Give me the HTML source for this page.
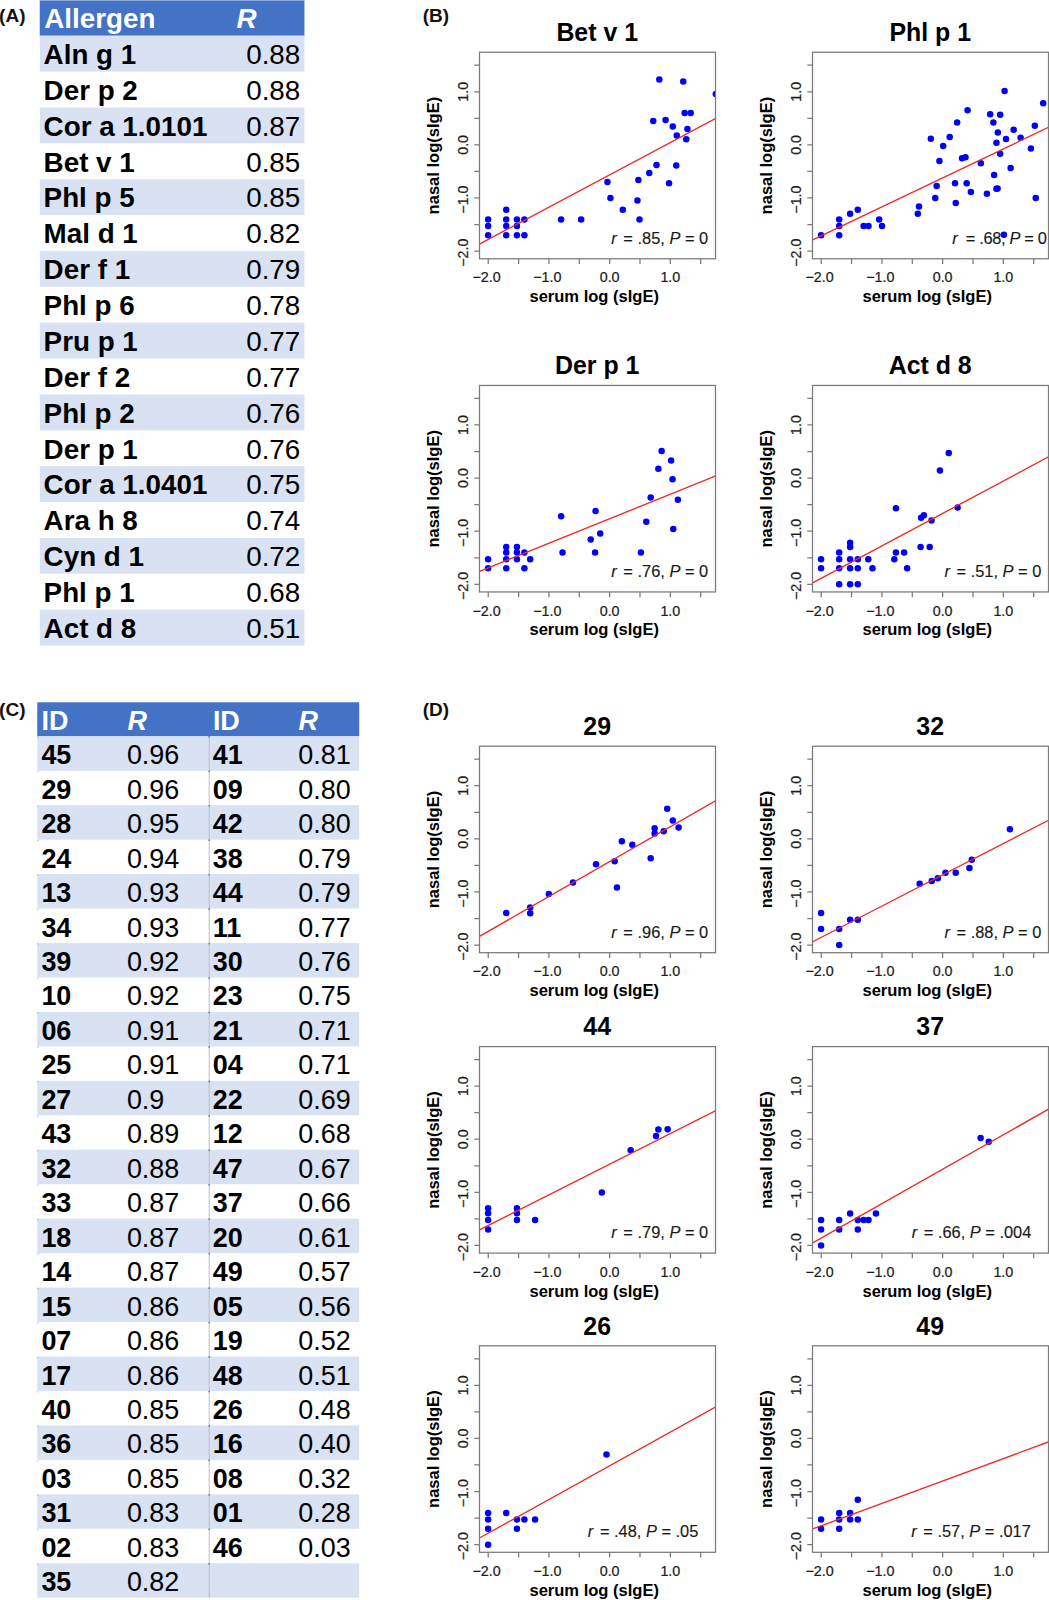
<!DOCTYPE html>
<html lang="en"><head><meta charset="utf-8"><title>Nasal vs serum sIgE correlation</title>
<style>
html,body{margin:0;padding:0;background:#fff}
body{width:1049px;height:1600px;position:relative;overflow:hidden;font-family:'Liberation Sans', Arial, Helvetica, sans-serif;color:#000}
rect.hd{fill:#4472c4}
rect.st{fill:#d9e2f3}
.hb{font-weight:bold;fill:#fff}
.hbi{font-weight:bold;font-style:italic;fill:#fff}
.b{font-weight:bold;fill:#000}
.n{fill:#000}
.sep{stroke:#b7bbc8;stroke-width:0.95}
.sd{fill:#5b6a70}
svg{position:absolute;left:0;top:0}
svg text{font-family:'Liberation Sans', Arial, Helvetica, sans-serif}
.ttl{font-size:24.9px;font-weight:bold;fill:#000}
.tl{font-size:14.3px;fill:#1c1c1c;stroke:#1c1c1c;stroke-width:.22px}
.at{font-size:16.55px;font-weight:bold;fill:#000}
.rl{font-size:16.4px;fill:#1a1a1a;stroke:#1a1a1a;stroke-width:.15px}
.rl .i{font-style:italic}
.box{fill:none;stroke:#7a7a7a;stroke-width:1.25}
.tk{fill:none;stroke:#7a7a7a;stroke-width:1.25}
.reg{stroke:#ee2a24;stroke-width:1.35}
circle{fill:#0000ff}
</style></head><body>
<svg width="1049" height="1600" viewBox="0 0 1049 1600">
<g id="tableA" font-size="27.8">
<rect class="hd" x="39.75" y="0.4" width="264.7" height="35.35"/>
<rect class="st" x="39.75" y="35.75" width="264.7" height="35.87"/>
<rect class="st" x="39.75" y="107.48" width="264.7" height="35.87"/>
<rect class="st" x="39.75" y="179.21" width="264.7" height="35.87"/>
<rect class="st" x="39.75" y="250.95" width="264.7" height="35.87"/>
<rect class="st" x="39.75" y="322.68" width="264.7" height="35.87"/>
<rect class="st" x="39.75" y="394.41" width="264.7" height="35.87"/>
<rect class="st" x="39.75" y="466.14" width="264.7" height="35.87"/>
<rect class="st" x="39.75" y="537.87" width="264.7" height="35.87"/>
<rect class="st" x="39.75" y="609.61" width="264.7" height="35.87"/>
<text class="hb" x="44.3" y="27.8">Allergen</text><text class="hbi" x="236.6" y="27.8">R</text>
<text class="b" x="43.6" y="64">Aln g 1</text><text class="n" x="300.3" y="64" text-anchor="end">0.88</text>
<text class="b" x="43.6" y="99.87">Der p 2</text><text class="n" x="300.3" y="99.87" text-anchor="end">0.88</text>
<text class="b" x="43.6" y="135.73">Cor a 1.0101</text><text class="n" x="300.3" y="135.73" text-anchor="end">0.87</text>
<text class="b" x="43.6" y="171.6">Bet v 1</text><text class="n" x="300.3" y="171.6" text-anchor="end">0.85</text>
<text class="b" x="43.6" y="207.46">Phl p 5</text><text class="n" x="300.3" y="207.46" text-anchor="end">0.85</text>
<text class="b" x="43.6" y="243.33">Mal d 1</text><text class="n" x="300.3" y="243.33" text-anchor="end">0.82</text>
<text class="b" x="43.6" y="279.2">Der f 1</text><text class="n" x="300.3" y="279.2" text-anchor="end">0.79</text>
<text class="b" x="43.6" y="315.06">Phl p 6</text><text class="n" x="300.3" y="315.06" text-anchor="end">0.78</text>
<text class="b" x="43.6" y="350.93">Pru p 1</text><text class="n" x="300.3" y="350.93" text-anchor="end">0.77</text>
<text class="b" x="43.6" y="386.79">Der f 2</text><text class="n" x="300.3" y="386.79" text-anchor="end">0.77</text>
<text class="b" x="43.6" y="422.66">Phl p 2</text><text class="n" x="300.3" y="422.66" text-anchor="end">0.76</text>
<text class="b" x="43.6" y="458.53">Der p 1</text><text class="n" x="300.3" y="458.53" text-anchor="end">0.76</text>
<text class="b" x="43.6" y="494.39">Cor a 1.0401</text><text class="n" x="300.3" y="494.39" text-anchor="end">0.75</text>
<text class="b" x="43.6" y="530.26">Ara h 8</text><text class="n" x="300.3" y="530.26" text-anchor="end">0.74</text>
<text class="b" x="43.6" y="566.12">Cyn d 1</text><text class="n" x="300.3" y="566.12" text-anchor="end">0.72</text>
<text class="b" x="43.6" y="601.99">Phl p 1</text><text class="n" x="300.3" y="601.99" text-anchor="end">0.68</text>
<text class="b" x="43.6" y="637.86">Act d 8</text><text class="n" x="300.3" y="637.86" text-anchor="end">0.51</text>
</g>
<g id="tableC" font-size="26.95">
<rect class="hd" x="37.25" y="702.3" width="321.95" height="34"/>
<rect class="st" x="37.25" y="736.3" width="321.95" height="34.46"/>
<rect class="st" x="37.25" y="805.21" width="321.95" height="34.46"/>
<rect class="st" x="37.25" y="874.12" width="321.95" height="34.46"/>
<rect class="st" x="37.25" y="943.04" width="321.95" height="34.46"/>
<rect class="st" x="37.25" y="1011.95" width="321.95" height="34.46"/>
<rect class="st" x="37.25" y="1080.86" width="321.95" height="34.46"/>
<rect class="st" x="37.25" y="1149.77" width="321.95" height="34.46"/>
<rect class="st" x="37.25" y="1218.68" width="321.95" height="34.46"/>
<rect class="st" x="37.25" y="1287.6" width="321.95" height="34.46"/>
<rect class="st" x="37.25" y="1356.51" width="321.95" height="34.46"/>
<rect class="st" x="37.25" y="1425.42" width="321.95" height="34.46"/>
<rect class="st" x="37.25" y="1494.33" width="321.95" height="34.46"/>
<rect class="st" x="37.25" y="1563.24" width="321.95" height="34.46"/>
<text class="hb" x="41.6" y="729.7">ID</text><text class="hbi" x="127.4" y="729.7">R</text><text class="hb" x="212.9" y="729.7">ID</text><text class="hbi" x="298.4" y="729.7">R</text>
<text class="b" x="41.4" y="764.3">45</text><text class="n" x="126.9" y="764.3">0.96</text>
<text class="b" x="212.8" y="764.3">41</text><text class="n" x="298.3" y="764.3">0.81</text>
<text class="b" x="41.4" y="798.76">29</text><text class="n" x="126.9" y="798.76">0.96</text>
<text class="b" x="212.8" y="798.76">09</text><text class="n" x="298.3" y="798.76">0.80</text>
<text class="b" x="41.4" y="833.21">28</text><text class="n" x="126.9" y="833.21">0.95</text>
<text class="b" x="212.8" y="833.21">42</text><text class="n" x="298.3" y="833.21">0.80</text>
<text class="b" x="41.4" y="867.67">24</text><text class="n" x="126.9" y="867.67">0.94</text>
<text class="b" x="212.8" y="867.67">38</text><text class="n" x="298.3" y="867.67">0.79</text>
<text class="b" x="41.4" y="902.12">13</text><text class="n" x="126.9" y="902.12">0.93</text>
<text class="b" x="212.8" y="902.12">44</text><text class="n" x="298.3" y="902.12">0.79</text>
<text class="b" x="41.4" y="936.58">34</text><text class="n" x="126.9" y="936.58">0.93</text>
<text class="b" x="212.8" y="936.58">11</text><text class="n" x="298.3" y="936.58">0.77</text>
<text class="b" x="41.4" y="971.04">39</text><text class="n" x="126.9" y="971.04">0.92</text>
<text class="b" x="212.8" y="971.04">30</text><text class="n" x="298.3" y="971.04">0.76</text>
<text class="b" x="41.4" y="1005.49">10</text><text class="n" x="126.9" y="1005.49">0.92</text>
<text class="b" x="212.8" y="1005.49">23</text><text class="n" x="298.3" y="1005.49">0.75</text>
<text class="b" x="41.4" y="1039.95">06</text><text class="n" x="126.9" y="1039.95">0.91</text>
<text class="b" x="212.8" y="1039.95">21</text><text class="n" x="298.3" y="1039.95">0.71</text>
<text class="b" x="41.4" y="1074.4">25</text><text class="n" x="126.9" y="1074.4">0.91</text>
<text class="b" x="212.8" y="1074.4">04</text><text class="n" x="298.3" y="1074.4">0.71</text>
<text class="b" x="41.4" y="1108.86">27</text><text class="n" x="126.9" y="1108.86">0.9</text>
<text class="b" x="212.8" y="1108.86">22</text><text class="n" x="298.3" y="1108.86">0.69</text>
<text class="b" x="41.4" y="1143.32">43</text><text class="n" x="126.9" y="1143.32">0.89</text>
<text class="b" x="212.8" y="1143.32">12</text><text class="n" x="298.3" y="1143.32">0.68</text>
<text class="b" x="41.4" y="1177.77">32</text><text class="n" x="126.9" y="1177.77">0.88</text>
<text class="b" x="212.8" y="1177.77">47</text><text class="n" x="298.3" y="1177.77">0.67</text>
<text class="b" x="41.4" y="1212.23">33</text><text class="n" x="126.9" y="1212.23">0.87</text>
<text class="b" x="212.8" y="1212.23">37</text><text class="n" x="298.3" y="1212.23">0.66</text>
<text class="b" x="41.4" y="1246.68">18</text><text class="n" x="126.9" y="1246.68">0.87</text>
<text class="b" x="212.8" y="1246.68">20</text><text class="n" x="298.3" y="1246.68">0.61</text>
<text class="b" x="41.4" y="1281.14">14</text><text class="n" x="126.9" y="1281.14">0.87</text>
<text class="b" x="212.8" y="1281.14">49</text><text class="n" x="298.3" y="1281.14">0.57</text>
<text class="b" x="41.4" y="1315.6">15</text><text class="n" x="126.9" y="1315.6">0.86</text>
<text class="b" x="212.8" y="1315.6">05</text><text class="n" x="298.3" y="1315.6">0.56</text>
<text class="b" x="41.4" y="1350.05">07</text><text class="n" x="126.9" y="1350.05">0.86</text>
<text class="b" x="212.8" y="1350.05">19</text><text class="n" x="298.3" y="1350.05">0.52</text>
<text class="b" x="41.4" y="1384.51">17</text><text class="n" x="126.9" y="1384.51">0.86</text>
<text class="b" x="212.8" y="1384.51">48</text><text class="n" x="298.3" y="1384.51">0.51</text>
<text class="b" x="41.4" y="1418.96">40</text><text class="n" x="126.9" y="1418.96">0.85</text>
<text class="b" x="212.8" y="1418.96">26</text><text class="n" x="298.3" y="1418.96">0.48</text>
<text class="b" x="41.4" y="1453.42">36</text><text class="n" x="126.9" y="1453.42">0.85</text>
<text class="b" x="212.8" y="1453.42">16</text><text class="n" x="298.3" y="1453.42">0.40</text>
<text class="b" x="41.4" y="1487.88">03</text><text class="n" x="126.9" y="1487.88">0.85</text>
<text class="b" x="212.8" y="1487.88">08</text><text class="n" x="298.3" y="1487.88">0.32</text>
<text class="b" x="41.4" y="1522.33">31</text><text class="n" x="126.9" y="1522.33">0.83</text>
<text class="b" x="212.8" y="1522.33">01</text><text class="n" x="298.3" y="1522.33">0.28</text>
<text class="b" x="41.4" y="1556.79">02</text><text class="n" x="126.9" y="1556.79">0.83</text>
<text class="b" x="212.8" y="1556.79">46</text><text class="n" x="298.3" y="1556.79">0.03</text>
<text class="b" x="41.4" y="1591.24">35</text><text class="n" x="126.9" y="1591.24">0.82</text>
<line class="sep" x1="209.2" y1="736.3" x2="209.2" y2="1597.7"/>
<rect class="sd" x="208.55" y="736.1" width="1.3" height="1.5"/>
<rect class="sd" opacity="0.45" x="37.25" y="736.6" width="1.2" height="1.2"/>
<rect class="sd" x="208.55" y="770.56" width="1.3" height="1.5"/>
<rect class="sd" opacity="0.45" x="37.25" y="771.06" width="1.2" height="1.2"/>
<rect class="sd" x="208.55" y="805.01" width="1.3" height="1.5"/>
<rect class="sd" opacity="0.45" x="37.25" y="805.51" width="1.2" height="1.2"/>
<rect class="sd" x="208.55" y="839.47" width="1.3" height="1.5"/>
<rect class="sd" opacity="0.45" x="37.25" y="839.97" width="1.2" height="1.2"/>
<rect class="sd" x="208.55" y="873.92" width="1.3" height="1.5"/>
<rect class="sd" opacity="0.45" x="37.25" y="874.42" width="1.2" height="1.2"/>
<rect class="sd" x="208.55" y="908.38" width="1.3" height="1.5"/>
<rect class="sd" opacity="0.45" x="37.25" y="908.88" width="1.2" height="1.2"/>
<rect class="sd" x="208.55" y="942.84" width="1.3" height="1.5"/>
<rect class="sd" opacity="0.45" x="37.25" y="943.34" width="1.2" height="1.2"/>
<rect class="sd" x="208.55" y="977.29" width="1.3" height="1.5"/>
<rect class="sd" opacity="0.45" x="37.25" y="977.79" width="1.2" height="1.2"/>
<rect class="sd" x="208.55" y="1011.75" width="1.3" height="1.5"/>
<rect class="sd" opacity="0.45" x="37.25" y="1012.25" width="1.2" height="1.2"/>
<rect class="sd" x="208.55" y="1046.2" width="1.3" height="1.5"/>
<rect class="sd" opacity="0.45" x="37.25" y="1046.7" width="1.2" height="1.2"/>
<rect class="sd" x="208.55" y="1080.66" width="1.3" height="1.5"/>
<rect class="sd" opacity="0.45" x="37.25" y="1081.16" width="1.2" height="1.2"/>
<rect class="sd" x="208.55" y="1115.12" width="1.3" height="1.5"/>
<rect class="sd" opacity="0.45" x="37.25" y="1115.62" width="1.2" height="1.2"/>
<rect class="sd" x="208.55" y="1149.57" width="1.3" height="1.5"/>
<rect class="sd" opacity="0.45" x="37.25" y="1150.07" width="1.2" height="1.2"/>
<rect class="sd" x="208.55" y="1184.03" width="1.3" height="1.5"/>
<rect class="sd" opacity="0.45" x="37.25" y="1184.53" width="1.2" height="1.2"/>
<rect class="sd" x="208.55" y="1218.48" width="1.3" height="1.5"/>
<rect class="sd" opacity="0.45" x="37.25" y="1218.98" width="1.2" height="1.2"/>
<rect class="sd" x="208.55" y="1252.94" width="1.3" height="1.5"/>
<rect class="sd" opacity="0.45" x="37.25" y="1253.44" width="1.2" height="1.2"/>
<rect class="sd" x="208.55" y="1287.4" width="1.3" height="1.5"/>
<rect class="sd" opacity="0.45" x="37.25" y="1287.9" width="1.2" height="1.2"/>
<rect class="sd" x="208.55" y="1321.85" width="1.3" height="1.5"/>
<rect class="sd" opacity="0.45" x="37.25" y="1322.35" width="1.2" height="1.2"/>
<rect class="sd" x="208.55" y="1356.31" width="1.3" height="1.5"/>
<rect class="sd" opacity="0.45" x="37.25" y="1356.81" width="1.2" height="1.2"/>
<rect class="sd" x="208.55" y="1390.76" width="1.3" height="1.5"/>
<rect class="sd" opacity="0.45" x="37.25" y="1391.26" width="1.2" height="1.2"/>
<rect class="sd" x="208.55" y="1425.22" width="1.3" height="1.5"/>
<rect class="sd" opacity="0.45" x="37.25" y="1425.72" width="1.2" height="1.2"/>
<rect class="sd" x="208.55" y="1459.68" width="1.3" height="1.5"/>
<rect class="sd" opacity="0.45" x="37.25" y="1460.18" width="1.2" height="1.2"/>
<rect class="sd" x="208.55" y="1494.13" width="1.3" height="1.5"/>
<rect class="sd" opacity="0.45" x="37.25" y="1494.63" width="1.2" height="1.2"/>
<rect class="sd" x="208.55" y="1528.59" width="1.3" height="1.5"/>
<rect class="sd" opacity="0.45" x="37.25" y="1529.09" width="1.2" height="1.2"/>
<rect class="sd" x="208.55" y="1563.04" width="1.3" height="1.5"/>
<rect class="sd" opacity="0.45" x="37.25" y="1563.54" width="1.2" height="1.2"/>
</g>
<g font-weight="bold" font-size="19" fill="#111">
<text x="-0.9" y="21.7">(A)</text>
<text x="422.8" y="21.7">(B)</text>
<text x="-0.9" y="716.2">(C)</text>
<text x="422.8" y="716.2">(D)</text>
</g>
<g class="plot">
<clipPath id="c0"><rect x="479.5" y="52.25" width="236" height="206.5"/></clipPath>
<text class="ttl" x="597.2" y="41.05" text-anchor="middle">Bet v 1</text>
<g clip-path="url(#c0)">
<circle cx="488.1" cy="219.43" r="3.25"/>
<circle cx="488.1" cy="225.94" r="3.25"/>
<circle cx="488.1" cy="235.24" r="3.25"/>
<circle cx="506.24" cy="209.66" r="3.25"/>
<circle cx="506.24" cy="219.43" r="3.25"/>
<circle cx="506.24" cy="225.94" r="3.25"/>
<circle cx="506.24" cy="235.24" r="3.25"/>
<circle cx="516.94" cy="219.43" r="3.25"/>
<circle cx="516.94" cy="225.94" r="3.25"/>
<circle cx="516.94" cy="235.24" r="3.25"/>
<circle cx="524.38" cy="219.43" r="3.25"/>
<circle cx="524.38" cy="235.24" r="3.25"/>
<circle cx="561.13" cy="219.43" r="3.25"/>
<circle cx="581.14" cy="219.43" r="3.25"/>
<circle cx="607.42" cy="181.98" r="3.25"/>
<circle cx="610.44" cy="198.03" r="3.25"/>
<circle cx="622.77" cy="209.66" r="3.25"/>
<circle cx="637.43" cy="200.59" r="3.25"/>
<circle cx="638.36" cy="179.89" r="3.25"/>
<circle cx="639.52" cy="219.43" r="3.25"/>
<circle cx="649.29" cy="172.91" r="3.25"/>
<circle cx="656.5" cy="165" r="3.25"/>
<circle cx="653.24" cy="121.04" r="3.25"/>
<circle cx="659.29" cy="79.4" r="3.25"/>
<circle cx="665.57" cy="120.11" r="3.25"/>
<circle cx="669.06" cy="183.14" r="3.25"/>
<circle cx="672.78" cy="126.62" r="3.25"/>
<circle cx="676.27" cy="165.46" r="3.25"/>
<circle cx="676.74" cy="135.46" r="3.25"/>
<circle cx="683.25" cy="81.49" r="3.25"/>
<circle cx="684.64" cy="112.9" r="3.25"/>
<circle cx="690.69" cy="112.9" r="3.25"/>
<circle cx="687.44" cy="128.95" r="3.25"/>
<circle cx="686.27" cy="139.18" r="3.25"/>
<circle cx="715.81" cy="94.06" r="3.25"/>
<line class="reg" x1="479.49" y1="244.08" x2="715.81" y2="118.25"/>
</g>
<rect class="box" x="479.5" y="52.25" width="236" height="206.5"/>
<path class="tk" d="M488.24 258.75v5.2M479.5 251.1h-5.2M518.59 258.75v5.2M479.5 224.55h-5.2M548.94 258.75v5.2M479.5 197.99h-5.2M579.29 258.75v5.2M479.5 171.43h-5.2M609.64 258.75v5.2M479.5 144.88h-5.2M639.99 258.75v5.2M479.5 118.32h-5.2M670.34 258.75v5.2M479.5 91.77h-5.2M700.69 258.75v5.2M479.5 65.21h-5.2"/>
<text class="tl" x="486.64" y="282.3" text-anchor="middle">−2.0</text>
<text class="tl" text-anchor="middle" transform="translate(467.7 252.7) rotate(-90)">−2.0</text>
<text class="tl" x="547.34" y="282.3" text-anchor="middle">−1.0</text>
<text class="tl" text-anchor="middle" transform="translate(467.7 199.59) rotate(-90)">−1.0</text>
<text class="tl" x="609.64" y="282.3" text-anchor="middle">0.0</text>
<text class="tl" text-anchor="middle" transform="translate(467.7 144.88) rotate(-90)">0.0</text>
<text class="tl" x="670.34" y="282.3" text-anchor="middle">1.0</text>
<text class="tl" text-anchor="middle" transform="translate(467.7 91.77) rotate(-90)">1.0</text>
<text class="at" x="594.2" y="302.25" text-anchor="middle">serum log (sIgE)</text>
<text class="at" text-anchor="middle" transform="translate(438.6 155.6) rotate(-90)">nasal log(sIgE)</text>
<text class="rl" x="708.14" y="243.55" text-anchor="end"><tspan class="i">r</tspan><tspan dx="2.1"> = .85, </tspan><tspan class="i">P</tspan> = 0</text>
</g>
<g class="plot">
<clipPath id="c1"><rect x="812.5" y="52.25" width="236" height="206.5"/></clipPath>
<text class="ttl" x="930.2" y="41.05" text-anchor="middle">Phl p 1</text>
<g clip-path="url(#c1)">
<circle cx="821.05" cy="235.24" r="3.25"/>
<circle cx="839.19" cy="219.43" r="3.25"/>
<circle cx="839.19" cy="225.94" r="3.25"/>
<circle cx="839.19" cy="235.24" r="3.25"/>
<circle cx="850.12" cy="213.85" r="3.25"/>
<circle cx="857.8" cy="209.66" r="3.25"/>
<circle cx="863.62" cy="225.94" r="3.25"/>
<circle cx="868.5" cy="225.94" r="3.25"/>
<circle cx="879.2" cy="219.43" r="3.25"/>
<circle cx="881.99" cy="225.94" r="3.25"/>
<circle cx="917.81" cy="213.85" r="3.25"/>
<circle cx="918.98" cy="206.4" r="3.25"/>
<circle cx="930.84" cy="138.71" r="3.25"/>
<circle cx="935.26" cy="198.03" r="3.25"/>
<circle cx="936.65" cy="185.93" r="3.25"/>
<circle cx="939.44" cy="161.04" r="3.25"/>
<circle cx="943.17" cy="145.93" r="3.25"/>
<circle cx="949.68" cy="137.09" r="3.25"/>
<circle cx="955.03" cy="183.14" r="3.25"/>
<circle cx="955.73" cy="202.91" r="3.25"/>
<circle cx="957.12" cy="122.43" r="3.25"/>
<circle cx="962.01" cy="158.25" r="3.25"/>
<circle cx="965.5" cy="157.32" r="3.25"/>
<circle cx="966.66" cy="183.14" r="3.25"/>
<circle cx="967.59" cy="110.34" r="3.25"/>
<circle cx="970.85" cy="191.98" r="3.25"/>
<circle cx="980.85" cy="163.14" r="3.25"/>
<circle cx="986.9" cy="193.84" r="3.25"/>
<circle cx="990.15" cy="114.29" r="3.25"/>
<circle cx="993.41" cy="122.43" r="3.25"/>
<circle cx="994.11" cy="175" r="3.25"/>
<circle cx="996.43" cy="142.67" r="3.25"/>
<circle cx="996.43" cy="188.84" r="3.25"/>
<circle cx="997.59" cy="188.38" r="3.25"/>
<circle cx="997.83" cy="132.43" r="3.25"/>
<circle cx="1000.15" cy="114.76" r="3.25"/>
<circle cx="1000.15" cy="153.83" r="3.25"/>
<circle cx="1004.57" cy="91.03" r="3.25"/>
<circle cx="1003.88" cy="234.78" r="3.25"/>
<circle cx="1005.97" cy="138.95" r="3.25"/>
<circle cx="1010.62" cy="168.02" r="3.25"/>
<circle cx="1013.64" cy="129.64" r="3.25"/>
<circle cx="1020.62" cy="137.78" r="3.25"/>
<circle cx="1030.86" cy="148.48" r="3.25"/>
<circle cx="1034.81" cy="125.69" r="3.25"/>
<circle cx="1035.74" cy="198.03" r="3.25"/>
<circle cx="1043.18" cy="103.36" r="3.25"/>
<line class="reg" x1="812.68" y1="239.9" x2="1049" y2="127.08"/>
</g>
<rect class="box" x="812.5" y="52.25" width="236" height="206.5"/>
<path class="tk" d="M821.24 258.75v5.2M812.5 251.1h-5.2M851.59 258.75v5.2M812.5 224.55h-5.2M881.94 258.75v5.2M812.5 197.99h-5.2M912.29 258.75v5.2M812.5 171.43h-5.2M942.64 258.75v5.2M812.5 144.88h-5.2M972.99 258.75v5.2M812.5 118.32h-5.2M1003.34 258.75v5.2M812.5 91.77h-5.2M1033.69 258.75v5.2M812.5 65.21h-5.2"/>
<text class="tl" x="819.64" y="282.3" text-anchor="middle">−2.0</text>
<text class="tl" text-anchor="middle" transform="translate(800.7 252.7) rotate(-90)">−2.0</text>
<text class="tl" x="880.34" y="282.3" text-anchor="middle">−1.0</text>
<text class="tl" text-anchor="middle" transform="translate(800.7 199.59) rotate(-90)">−1.0</text>
<text class="tl" x="942.64" y="282.3" text-anchor="middle">0.0</text>
<text class="tl" text-anchor="middle" transform="translate(800.7 144.88) rotate(-90)">0.0</text>
<text class="tl" x="1003.34" y="282.3" text-anchor="middle">1.0</text>
<text class="tl" text-anchor="middle" transform="translate(800.7 91.77) rotate(-90)">1.0</text>
<text class="at" x="927.2" y="302.25" text-anchor="middle">serum log (sIgE)</text>
<text class="at" text-anchor="middle" transform="translate(771.6 155.6) rotate(-90)">nasal log(sIgE)</text>
<text class="rl" x="1046.44" y="243.55" text-anchor="end" style="letter-spacing:-0.35px"><tspan class="i">r</tspan><tspan dx="4.4"> = .68, </tspan><tspan class="i">P</tspan> = 0</text>
</g>
<g class="plot">
<clipPath id="c2"><rect x="479.5" y="385.45" width="236" height="206.5"/></clipPath>
<text class="ttl" x="597.2" y="374.25" text-anchor="middle">Der p 1</text>
<g clip-path="url(#c2)">
<circle cx="488.1" cy="559.17" r="3.25"/>
<circle cx="488.1" cy="568.24" r="3.25"/>
<circle cx="506.24" cy="547.08" r="3.25"/>
<circle cx="506.24" cy="552.43" r="3.25"/>
<circle cx="506.24" cy="559.17" r="3.25"/>
<circle cx="506.24" cy="568.24" r="3.25"/>
<circle cx="516.94" cy="547.08" r="3.25"/>
<circle cx="516.94" cy="552.43" r="3.25"/>
<circle cx="516.94" cy="559.17" r="3.25"/>
<circle cx="524.38" cy="552.43" r="3.25"/>
<circle cx="524.38" cy="568.24" r="3.25"/>
<circle cx="530.2" cy="559.17" r="3.25"/>
<circle cx="561.13" cy="516.14" r="3.25"/>
<circle cx="562.53" cy="552.43" r="3.25"/>
<circle cx="590.67" cy="539.4" r="3.25"/>
<circle cx="595.09" cy="552.43" r="3.25"/>
<circle cx="595.56" cy="511.02" r="3.25"/>
<circle cx="600.21" cy="533.59" r="3.25"/>
<circle cx="640.92" cy="552.43" r="3.25"/>
<circle cx="646.27" cy="521.72" r="3.25"/>
<circle cx="650.68" cy="497.53" r="3.25"/>
<circle cx="658.36" cy="468.69" r="3.25"/>
<circle cx="661.62" cy="451.01" r="3.25"/>
<circle cx="671.15" cy="460.55" r="3.25"/>
<circle cx="672.55" cy="479.16" r="3.25"/>
<circle cx="673.25" cy="528.94" r="3.25"/>
<circle cx="677.9" cy="499.86" r="3.25"/>
<line class="reg" x1="479.49" y1="571.27" x2="715.81" y2="475.9"/>
</g>
<rect class="box" x="479.5" y="385.45" width="236" height="206.5"/>
<path class="tk" d="M488.24 591.95v5.2M479.5 584.3h-5.2M518.59 591.95v5.2M479.5 557.75h-5.2M548.94 591.95v5.2M479.5 531.19h-5.2M579.29 591.95v5.2M479.5 504.63h-5.2M609.64 591.95v5.2M479.5 478.08h-5.2M639.99 591.95v5.2M479.5 451.52h-5.2M670.34 591.95v5.2M479.5 424.97h-5.2M700.69 591.95v5.2M479.5 398.41h-5.2"/>
<text class="tl" x="486.64" y="615.5" text-anchor="middle">−2.0</text>
<text class="tl" text-anchor="middle" transform="translate(467.7 585.9) rotate(-90)">−2.0</text>
<text class="tl" x="547.34" y="615.5" text-anchor="middle">−1.0</text>
<text class="tl" text-anchor="middle" transform="translate(467.7 532.79) rotate(-90)">−1.0</text>
<text class="tl" x="609.64" y="615.5" text-anchor="middle">0.0</text>
<text class="tl" text-anchor="middle" transform="translate(467.7 478.08) rotate(-90)">0.0</text>
<text class="tl" x="670.34" y="615.5" text-anchor="middle">1.0</text>
<text class="tl" text-anchor="middle" transform="translate(467.7 424.97) rotate(-90)">1.0</text>
<text class="at" x="594.2" y="635.45" text-anchor="middle">serum log (sIgE)</text>
<text class="at" text-anchor="middle" transform="translate(438.6 488.8) rotate(-90)">nasal log(sIgE)</text>
<text class="rl" x="708.14" y="576.75" text-anchor="end"><tspan class="i">r</tspan><tspan dx="2.1"> = .76, </tspan><tspan class="i">P</tspan> = 0</text>
</g>
<g class="plot">
<clipPath id="c3"><rect x="812.5" y="385.45" width="236" height="206.5"/></clipPath>
<text class="ttl" x="930.2" y="374.25" text-anchor="middle">Act d 8</text>
<g clip-path="url(#c3)">
<circle cx="821.05" cy="559.17" r="3.25"/>
<circle cx="821.05" cy="568.24" r="3.25"/>
<circle cx="839.19" cy="552.43" r="3.25"/>
<circle cx="839.19" cy="559.17" r="3.25"/>
<circle cx="839.19" cy="568.24" r="3.25"/>
<circle cx="839.19" cy="584.29" r="3.25"/>
<circle cx="850.12" cy="542.66" r="3.25"/>
<circle cx="850.12" cy="547.08" r="3.25"/>
<circle cx="850.12" cy="559.17" r="3.25"/>
<circle cx="850.12" cy="568.24" r="3.25"/>
<circle cx="850.12" cy="584.29" r="3.25"/>
<circle cx="857.8" cy="559.17" r="3.25"/>
<circle cx="857.8" cy="568.24" r="3.25"/>
<circle cx="857.8" cy="584.29" r="3.25"/>
<circle cx="868.27" cy="559.17" r="3.25"/>
<circle cx="872.45" cy="568.24" r="3.25"/>
<circle cx="894.32" cy="559.17" r="3.25"/>
<circle cx="895.95" cy="552.43" r="3.25"/>
<circle cx="904.09" cy="552.43" r="3.25"/>
<circle cx="907.11" cy="568.24" r="3.25"/>
<circle cx="895.95" cy="508.23" r="3.25"/>
<circle cx="920.6" cy="547.08" r="3.25"/>
<circle cx="929.67" cy="547.08" r="3.25"/>
<circle cx="921.07" cy="517.77" r="3.25"/>
<circle cx="923.86" cy="515.21" r="3.25"/>
<circle cx="931.54" cy="520.56" r="3.25"/>
<circle cx="939.91" cy="470.55" r="3.25"/>
<circle cx="948.75" cy="453.11" r="3.25"/>
<circle cx="957.59" cy="507.54" r="3.25"/>
<line class="reg" x1="812.68" y1="582.9" x2="1049" y2="456.6"/>
</g>
<rect class="box" x="812.5" y="385.45" width="236" height="206.5"/>
<path class="tk" d="M821.24 591.95v5.2M812.5 584.3h-5.2M851.59 591.95v5.2M812.5 557.75h-5.2M881.94 591.95v5.2M812.5 531.19h-5.2M912.29 591.95v5.2M812.5 504.63h-5.2M942.64 591.95v5.2M812.5 478.08h-5.2M972.99 591.95v5.2M812.5 451.52h-5.2M1003.34 591.95v5.2M812.5 424.97h-5.2M1033.69 591.95v5.2M812.5 398.41h-5.2"/>
<text class="tl" x="819.64" y="615.5" text-anchor="middle">−2.0</text>
<text class="tl" text-anchor="middle" transform="translate(800.7 585.9) rotate(-90)">−2.0</text>
<text class="tl" x="880.34" y="615.5" text-anchor="middle">−1.0</text>
<text class="tl" text-anchor="middle" transform="translate(800.7 532.79) rotate(-90)">−1.0</text>
<text class="tl" x="942.64" y="615.5" text-anchor="middle">0.0</text>
<text class="tl" text-anchor="middle" transform="translate(800.7 478.08) rotate(-90)">0.0</text>
<text class="tl" x="1003.34" y="615.5" text-anchor="middle">1.0</text>
<text class="tl" text-anchor="middle" transform="translate(800.7 424.97) rotate(-90)">1.0</text>
<text class="at" x="927.2" y="635.45" text-anchor="middle">serum log (sIgE)</text>
<text class="at" text-anchor="middle" transform="translate(771.6 488.8) rotate(-90)">nasal log(sIgE)</text>
<text class="rl" x="1041.33" y="576.75" text-anchor="end"><tspan class="i">r</tspan><tspan dx="2.1"> = .51, </tspan><tspan class="i">P</tspan> = 0</text>
</g>
<g class="plot">
<clipPath id="c4"><rect x="479.5" y="746.2" width="236" height="206.5"/></clipPath>
<text class="ttl" x="597.2" y="735" text-anchor="middle">29</text>
<g clip-path="url(#c4)">
<circle cx="506.24" cy="912.89" r="3.25"/>
<circle cx="530.2" cy="907.54" r="3.25"/>
<circle cx="530.2" cy="913.13" r="3.25"/>
<circle cx="548.8" cy="894.05" r="3.25"/>
<circle cx="573" cy="882.42" r="3.25"/>
<circle cx="596.02" cy="864.28" r="3.25"/>
<circle cx="614.63" cy="861.26" r="3.25"/>
<circle cx="616.96" cy="887.54" r="3.25"/>
<circle cx="621.84" cy="841.25" r="3.25"/>
<circle cx="632.31" cy="844.74" r="3.25"/>
<circle cx="650.68" cy="858.23" r="3.25"/>
<circle cx="654.64" cy="828.23" r="3.25"/>
<circle cx="654.64" cy="833.58" r="3.25"/>
<circle cx="663.71" cy="831.25" r="3.25"/>
<circle cx="667.2" cy="808.69" r="3.25"/>
<circle cx="672.78" cy="820.55" r="3.25"/>
<circle cx="678.6" cy="827.53" r="3.25"/>
<line class="reg" x1="479.49" y1="936.39" x2="715.81" y2="800.55"/>
</g>
<rect class="box" x="479.5" y="746.2" width="236" height="206.5"/>
<path class="tk" d="M488.24 952.7v5.2M479.5 945.05h-5.2M518.59 952.7v5.2M479.5 918.5h-5.2M548.94 952.7v5.2M479.5 891.94h-5.2M579.29 952.7v5.2M479.5 865.38h-5.2M609.64 952.7v5.2M479.5 838.83h-5.2M639.99 952.7v5.2M479.5 812.27h-5.2M670.34 952.7v5.2M479.5 785.72h-5.2M700.69 952.7v5.2M479.5 759.16h-5.2"/>
<text class="tl" x="486.64" y="976.25" text-anchor="middle">−2.0</text>
<text class="tl" text-anchor="middle" transform="translate(467.7 946.65) rotate(-90)">−2.0</text>
<text class="tl" x="547.34" y="976.25" text-anchor="middle">−1.0</text>
<text class="tl" text-anchor="middle" transform="translate(467.7 893.54) rotate(-90)">−1.0</text>
<text class="tl" x="609.64" y="976.25" text-anchor="middle">0.0</text>
<text class="tl" text-anchor="middle" transform="translate(467.7 838.83) rotate(-90)">0.0</text>
<text class="tl" x="670.34" y="976.25" text-anchor="middle">1.0</text>
<text class="tl" text-anchor="middle" transform="translate(467.7 785.72) rotate(-90)">1.0</text>
<text class="at" x="594.2" y="996.2" text-anchor="middle">serum log (sIgE)</text>
<text class="at" text-anchor="middle" transform="translate(438.6 849.55) rotate(-90)">nasal log(sIgE)</text>
<text class="rl" x="708.14" y="937.5" text-anchor="end"><tspan class="i">r</tspan><tspan dx="2.1"> = .96, </tspan><tspan class="i">P</tspan> = 0</text>
</g>
<g class="plot">
<clipPath id="c5"><rect x="812.5" y="746.2" width="236" height="206.5"/></clipPath>
<text class="ttl" x="930.2" y="735" text-anchor="middle">32</text>
<g clip-path="url(#c5)">
<circle cx="821.05" cy="912.89" r="3.25"/>
<circle cx="821.05" cy="928.94" r="3.25"/>
<circle cx="839.19" cy="928.94" r="3.25"/>
<circle cx="839.19" cy="944.99" r="3.25"/>
<circle cx="850.12" cy="919.64" r="3.25"/>
<circle cx="857.8" cy="919.64" r="3.25"/>
<circle cx="919.67" cy="883.82" r="3.25"/>
<circle cx="931.77" cy="881.03" r="3.25"/>
<circle cx="937.82" cy="878.24" r="3.25"/>
<circle cx="945.49" cy="872.65" r="3.25"/>
<circle cx="955.73" cy="872.65" r="3.25"/>
<circle cx="969.45" cy="868" r="3.25"/>
<circle cx="971.78" cy="859.86" r="3.25"/>
<circle cx="1009.92" cy="829.16" r="3.25"/>
<line class="reg" x1="812.68" y1="941.74" x2="1049" y2="820.08"/>
</g>
<rect class="box" x="812.5" y="746.2" width="236" height="206.5"/>
<path class="tk" d="M821.24 952.7v5.2M812.5 945.05h-5.2M851.59 952.7v5.2M812.5 918.5h-5.2M881.94 952.7v5.2M812.5 891.94h-5.2M912.29 952.7v5.2M812.5 865.38h-5.2M942.64 952.7v5.2M812.5 838.83h-5.2M972.99 952.7v5.2M812.5 812.27h-5.2M1003.34 952.7v5.2M812.5 785.72h-5.2M1033.69 952.7v5.2M812.5 759.16h-5.2"/>
<text class="tl" x="819.64" y="976.25" text-anchor="middle">−2.0</text>
<text class="tl" text-anchor="middle" transform="translate(800.7 946.65) rotate(-90)">−2.0</text>
<text class="tl" x="880.34" y="976.25" text-anchor="middle">−1.0</text>
<text class="tl" text-anchor="middle" transform="translate(800.7 893.54) rotate(-90)">−1.0</text>
<text class="tl" x="942.64" y="976.25" text-anchor="middle">0.0</text>
<text class="tl" text-anchor="middle" transform="translate(800.7 838.83) rotate(-90)">0.0</text>
<text class="tl" x="1003.34" y="976.25" text-anchor="middle">1.0</text>
<text class="tl" text-anchor="middle" transform="translate(800.7 785.72) rotate(-90)">1.0</text>
<text class="at" x="927.2" y="996.2" text-anchor="middle">serum log (sIgE)</text>
<text class="at" text-anchor="middle" transform="translate(771.6 849.55) rotate(-90)">nasal log(sIgE)</text>
<text class="rl" x="1041.33" y="937.5" text-anchor="end"><tspan class="i">r</tspan><tspan dx="2.1"> = .88, </tspan><tspan class="i">P</tspan> = 0</text>
</g>
<g class="plot">
<clipPath id="c6"><rect x="479.5" y="1046.6" width="236" height="206.5"/></clipPath>
<text class="ttl" x="597.2" y="1035.4" text-anchor="middle">44</text>
<g clip-path="url(#c6)">
<circle cx="488.1" cy="1208.24" r="3.25"/>
<circle cx="488.1" cy="1213.36" r="3.25"/>
<circle cx="488.1" cy="1220.1" r="3.25"/>
<circle cx="488.1" cy="1229.41" r="3.25"/>
<circle cx="516.94" cy="1208.24" r="3.25"/>
<circle cx="516.94" cy="1213.36" r="3.25"/>
<circle cx="516.94" cy="1220.1" r="3.25"/>
<circle cx="535.08" cy="1220.1" r="3.25"/>
<circle cx="601.84" cy="1192.42" r="3.25"/>
<circle cx="630.68" cy="1150.32" r="3.25"/>
<circle cx="656.03" cy="1135.9" r="3.25"/>
<circle cx="658.36" cy="1129.62" r="3.25"/>
<circle cx="667.66" cy="1129.16" r="3.25"/>
<line class="reg" x1="479.49" y1="1229.87" x2="715.81" y2="1110.55"/>
</g>
<rect class="box" x="479.5" y="1046.6" width="236" height="206.5"/>
<path class="tk" d="M488.24 1253.1v5.2M479.5 1245.45h-5.2M518.59 1253.1v5.2M479.5 1218.9h-5.2M548.94 1253.1v5.2M479.5 1192.34h-5.2M579.29 1253.1v5.2M479.5 1165.78h-5.2M609.64 1253.1v5.2M479.5 1139.23h-5.2M639.99 1253.1v5.2M479.5 1112.67h-5.2M670.34 1253.1v5.2M479.5 1086.12h-5.2M700.69 1253.1v5.2M479.5 1059.56h-5.2"/>
<text class="tl" x="486.64" y="1276.65" text-anchor="middle">−2.0</text>
<text class="tl" text-anchor="middle" transform="translate(467.7 1247.05) rotate(-90)">−2.0</text>
<text class="tl" x="547.34" y="1276.65" text-anchor="middle">−1.0</text>
<text class="tl" text-anchor="middle" transform="translate(467.7 1193.94) rotate(-90)">−1.0</text>
<text class="tl" x="609.64" y="1276.65" text-anchor="middle">0.0</text>
<text class="tl" text-anchor="middle" transform="translate(467.7 1139.23) rotate(-90)">0.0</text>
<text class="tl" x="670.34" y="1276.65" text-anchor="middle">1.0</text>
<text class="tl" text-anchor="middle" transform="translate(467.7 1086.12) rotate(-90)">1.0</text>
<text class="at" x="594.2" y="1296.6" text-anchor="middle">serum log (sIgE)</text>
<text class="at" text-anchor="middle" transform="translate(438.6 1149.95) rotate(-90)">nasal log(sIgE)</text>
<text class="rl" x="708.14" y="1237.9" text-anchor="end"><tspan class="i">r</tspan><tspan dx="2.1"> = .79, </tspan><tspan class="i">P</tspan> = 0</text>
</g>
<g class="plot">
<clipPath id="c7"><rect x="812.5" y="1046.6" width="236" height="206.5"/></clipPath>
<text class="ttl" x="930.2" y="1035.4" text-anchor="middle">37</text>
<g clip-path="url(#c7)">
<circle cx="821.05" cy="1220.1" r="3.25"/>
<circle cx="821.05" cy="1229.41" r="3.25"/>
<circle cx="821.05" cy="1245.46" r="3.25"/>
<circle cx="839.19" cy="1220.1" r="3.25"/>
<circle cx="839.19" cy="1229.41" r="3.25"/>
<circle cx="850.12" cy="1213.59" r="3.25"/>
<circle cx="857.8" cy="1220.1" r="3.25"/>
<circle cx="857.8" cy="1229.41" r="3.25"/>
<circle cx="863.62" cy="1220.1" r="3.25"/>
<circle cx="868.5" cy="1220.1" r="3.25"/>
<circle cx="875.94" cy="1213.59" r="3.25"/>
<circle cx="980.61" cy="1138" r="3.25"/>
<circle cx="988.76" cy="1141.72" r="3.25"/>
<line class="reg" x1="812.68" y1="1242.9" x2="1049" y2="1108.92"/>
</g>
<rect class="box" x="812.5" y="1046.6" width="236" height="206.5"/>
<path class="tk" d="M821.24 1253.1v5.2M812.5 1245.45h-5.2M851.59 1253.1v5.2M812.5 1218.9h-5.2M881.94 1253.1v5.2M812.5 1192.34h-5.2M912.29 1253.1v5.2M812.5 1165.78h-5.2M942.64 1253.1v5.2M812.5 1139.23h-5.2M972.99 1253.1v5.2M812.5 1112.67h-5.2M1003.34 1253.1v5.2M812.5 1086.12h-5.2M1033.69 1253.1v5.2M812.5 1059.56h-5.2"/>
<text class="tl" x="819.64" y="1276.65" text-anchor="middle">−2.0</text>
<text class="tl" text-anchor="middle" transform="translate(800.7 1247.05) rotate(-90)">−2.0</text>
<text class="tl" x="880.34" y="1276.65" text-anchor="middle">−1.0</text>
<text class="tl" text-anchor="middle" transform="translate(800.7 1193.94) rotate(-90)">−1.0</text>
<text class="tl" x="942.64" y="1276.65" text-anchor="middle">0.0</text>
<text class="tl" text-anchor="middle" transform="translate(800.7 1139.23) rotate(-90)">0.0</text>
<text class="tl" x="1003.34" y="1276.65" text-anchor="middle">1.0</text>
<text class="tl" text-anchor="middle" transform="translate(800.7 1086.12) rotate(-90)">1.0</text>
<text class="at" x="927.2" y="1296.6" text-anchor="middle">serum log (sIgE)</text>
<text class="at" text-anchor="middle" transform="translate(771.6 1149.95) rotate(-90)">nasal log(sIgE)</text>
<text class="rl" x="1031.32" y="1237.9" text-anchor="end"><tspan class="i">r</tspan><tspan dx="2.1"> = .66, </tspan><tspan class="i">P</tspan> = .004</text>
</g>
<g class="plot">
<clipPath id="c8"><rect x="479.5" y="1345.8" width="236" height="206.5"/></clipPath>
<text class="ttl" x="597.2" y="1334.6" text-anchor="middle">26</text>
<g clip-path="url(#c8)">
<circle cx="488.1" cy="1512.89" r="3.25"/>
<circle cx="488.1" cy="1519.41" r="3.25"/>
<circle cx="488.1" cy="1528.71" r="3.25"/>
<circle cx="488.1" cy="1544.76" r="3.25"/>
<circle cx="506.24" cy="1512.89" r="3.25"/>
<circle cx="516.94" cy="1519.41" r="3.25"/>
<circle cx="516.94" cy="1528.71" r="3.25"/>
<circle cx="524.38" cy="1519.41" r="3.25"/>
<circle cx="535.08" cy="1519.41" r="3.25"/>
<circle cx="606.49" cy="1454.51" r="3.25"/>
<line class="reg" x1="479.49" y1="1538.01" x2="715.81" y2="1406.83"/>
</g>
<rect class="box" x="479.5" y="1345.8" width="236" height="206.5"/>
<path class="tk" d="M488.24 1552.3v5.2M479.5 1544.65h-5.2M518.59 1552.3v5.2M479.5 1518.1h-5.2M548.94 1552.3v5.2M479.5 1491.54h-5.2M579.29 1552.3v5.2M479.5 1464.98h-5.2M609.64 1552.3v5.2M479.5 1438.43h-5.2M639.99 1552.3v5.2M479.5 1411.87h-5.2M670.34 1552.3v5.2M479.5 1385.32h-5.2M700.69 1552.3v5.2M479.5 1358.76h-5.2"/>
<text class="tl" x="486.64" y="1575.85" text-anchor="middle">−2.0</text>
<text class="tl" text-anchor="middle" transform="translate(467.7 1546.25) rotate(-90)">−2.0</text>
<text class="tl" x="547.34" y="1575.85" text-anchor="middle">−1.0</text>
<text class="tl" text-anchor="middle" transform="translate(467.7 1493.14) rotate(-90)">−1.0</text>
<text class="tl" x="609.64" y="1575.85" text-anchor="middle">0.0</text>
<text class="tl" text-anchor="middle" transform="translate(467.7 1438.43) rotate(-90)">0.0</text>
<text class="tl" x="670.34" y="1575.85" text-anchor="middle">1.0</text>
<text class="tl" text-anchor="middle" transform="translate(467.7 1385.32) rotate(-90)">1.0</text>
<text class="at" x="594.2" y="1595.8" text-anchor="middle">serum log (sIgE)</text>
<text class="at" text-anchor="middle" transform="translate(438.6 1449.15) rotate(-90)">nasal log(sIgE)</text>
<text class="rl" x="698.37" y="1537.1" text-anchor="end"><tspan class="i">r</tspan><tspan dx="2.1"> = .48, </tspan><tspan class="i">P</tspan> = .05</text>
</g>
<g class="plot">
<clipPath id="c9"><rect x="812.5" y="1345.8" width="236" height="206.5"/></clipPath>
<text class="ttl" x="930.2" y="1334.6" text-anchor="middle">49</text>
<g clip-path="url(#c9)">
<circle cx="821.05" cy="1519.41" r="3.25"/>
<circle cx="821.05" cy="1528.71" r="3.25"/>
<circle cx="839.19" cy="1512.89" r="3.25"/>
<circle cx="839.19" cy="1519.41" r="3.25"/>
<circle cx="839.19" cy="1528.71" r="3.25"/>
<circle cx="850.12" cy="1512.89" r="3.25"/>
<circle cx="850.12" cy="1519.41" r="3.25"/>
<circle cx="857.8" cy="1499.87" r="3.25"/>
<circle cx="857.8" cy="1519.41" r="3.25"/>
<line class="reg" x1="812.68" y1="1528.94" x2="1049" y2="1441.72"/>
</g>
<rect class="box" x="812.5" y="1345.8" width="236" height="206.5"/>
<path class="tk" d="M821.24 1552.3v5.2M812.5 1544.65h-5.2M851.59 1552.3v5.2M812.5 1518.1h-5.2M881.94 1552.3v5.2M812.5 1491.54h-5.2M912.29 1552.3v5.2M812.5 1464.98h-5.2M942.64 1552.3v5.2M812.5 1438.43h-5.2M972.99 1552.3v5.2M812.5 1411.87h-5.2M1003.34 1552.3v5.2M812.5 1385.32h-5.2M1033.69 1552.3v5.2M812.5 1358.76h-5.2"/>
<text class="tl" x="819.64" y="1575.85" text-anchor="middle">−2.0</text>
<text class="tl" text-anchor="middle" transform="translate(800.7 1546.25) rotate(-90)">−2.0</text>
<text class="tl" x="880.34" y="1575.85" text-anchor="middle">−1.0</text>
<text class="tl" text-anchor="middle" transform="translate(800.7 1493.14) rotate(-90)">−1.0</text>
<text class="tl" x="942.64" y="1575.85" text-anchor="middle">0.0</text>
<text class="tl" text-anchor="middle" transform="translate(800.7 1438.43) rotate(-90)">0.0</text>
<text class="tl" x="1003.34" y="1575.85" text-anchor="middle">1.0</text>
<text class="tl" text-anchor="middle" transform="translate(800.7 1385.32) rotate(-90)">1.0</text>
<text class="at" x="927.2" y="1595.8" text-anchor="middle">serum log (sIgE)</text>
<text class="at" text-anchor="middle" transform="translate(771.6 1449.15) rotate(-90)">nasal log(sIgE)</text>
<text class="rl" x="1030.86" y="1537.1" text-anchor="end"><tspan class="i">r</tspan><tspan dx="2.1"> = .57, </tspan><tspan class="i">P</tspan> = .017</text>
</g>
</svg>
</body></html>
